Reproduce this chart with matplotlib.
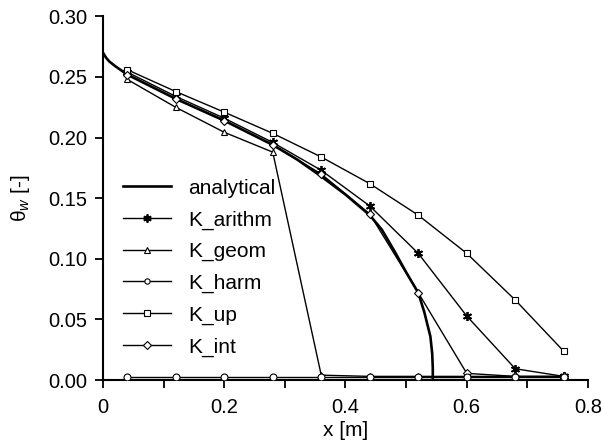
import matplotlib
matplotlib.use('Agg')
import matplotlib.pyplot as plt
from matplotlib.ticker import MultipleLocator

plt.rcParams['font.family'] = ['Liberation Sans', 'DejaVu Sans']
plt.rcParams['mathtext.fontset'] = 'custom'
plt.rcParams['mathtext.rm'] = 'Liberation Sans'
plt.rcParams['mathtext.it'] = 'Liberation Sans:italic'

# analytical solution
x_an = [0.0, 0.005, 0.01, 0.02, 0.04, 0.08, 0.12, 0.16, 0.20, 0.24, 0.28, 0.32, 0.36,
        0.40, 0.44, 0.46, 0.48, 0.50, 0.52, 0.53, 0.54, 0.543, 0.544, 0.544]
th_an = [0.270, 0.266, 0.263, 0.259, 0.252, 0.242, 0.232, 0.223, 0.214, 0.204, 0.194,
         0.182, 0.168, 0.153, 0.136, 0.124, 0.107, 0.089, 0.072, 0.056, 0.036, 0.022,
         0.010, 0.0]

# numerical nodes
x_num = [0.04, 0.12, 0.20, 0.28, 0.36, 0.44, 0.52, 0.60, 0.68, 0.76]
k_arithm = [0.254, 0.234, 0.216, 0.196, 0.173, 0.1436, 0.1045, 0.0528, 0.0093, 0.003]
k_geom = [0.248, 0.225, 0.2044, 0.188, 0.004, 0.003, 0.003, 0.003, 0.003, 0.003]
k_harm = [0.0027, 0.0027, 0.0027, 0.0027, 0.0027, 0.0027, 0.0027, 0.0027, 0.0027, 0.0027]
k_up = [0.256, 0.238, 0.221, 0.2035, 0.184, 0.162, 0.136, 0.1045, 0.066, 0.0237]
k_int = [0.252, 0.232, 0.214, 0.194, 0.170, 0.137, 0.072, 0.0055, 0.003, 0.003]

fig = plt.figure(figsize=(6.04, 4.44), dpi=100)
ax = fig.add_axes([0.1705, 0.1441, 0.803, 0.819])

ms = 5
ax.plot(x_an, th_an, color='black', lw=1.9, label='analytical', zorder=3)
ax.plot(x_num, k_arithm, color='black', lw=1.0, marker=(6, 2, 0), ms=6.5, mew=1.3,
        label='K_arithm', zorder=4)
ax.plot(x_num, k_geom, color='black', lw=1.0, marker='^', ms=ms, mfc='white', mec='black',
        mew=0.8, label='K_geom', zorder=4)
ax.plot(x_num, k_harm, color='black', lw=1.0, marker='o', ms=ms, mfc='white', mec='black',
        mew=0.8, label='K_harm', zorder=5)
ax.plot(x_num, k_up, color='black', lw=1.0, marker='s', ms=ms, mfc='white', mec='black',
        mew=0.8, label='K_up', zorder=4)
ax.plot(x_num, k_int, color='black', lw=1.0, marker='D', ms=4.3, mfc='white', mec='black',
        mew=0.8, label='K_int', zorder=4)

ax.set_xlim(0, 0.8)
ax.set_ylim(0, 0.30)
ax.xaxis.set_major_locator(MultipleLocator(0.2))
ax.xaxis.set_minor_locator(MultipleLocator(0.1))
ax.yaxis.set_major_locator(MultipleLocator(0.05))
ax.xaxis.set_major_formatter(plt.FuncFormatter(lambda v, p: '0' if v == 0 else '%.1f' % v))
ax.yaxis.set_major_formatter(plt.FuncFormatter(lambda v, p: '%.2f' % v))
ax.tick_params(which='both', direction='out', length=6, width=1.3, labelsize=14.5)
ax.tick_params(axis='x', pad=7)
ax.tick_params(axis='y', pad=5)
ax.spines['top'].set_visible(False)
ax.spines['right'].set_visible(False)
ax.spines['left'].set_linewidth(1.5)
ax.spines['bottom'].set_linewidth(1.5)

ax.set_xlabel('x [m]', fontsize=15, labelpad=3)
ax.set_ylabel('θ$_w$ [-]', fontsize=15, labelpad=12)

leg = ax.legend(loc='upper left', bbox_to_anchor=(0.003, 0.605), frameon=False, fontsize=15,
                handlelength=2.3, labelspacing=0.6, handletextpad=0.8)
for h in leg.legend_handles[2:]:
    h.set_markersize(3.8)
leg.legend_handles[1].set_markersize(6)

fig.savefig('out.png', dpi=100)
